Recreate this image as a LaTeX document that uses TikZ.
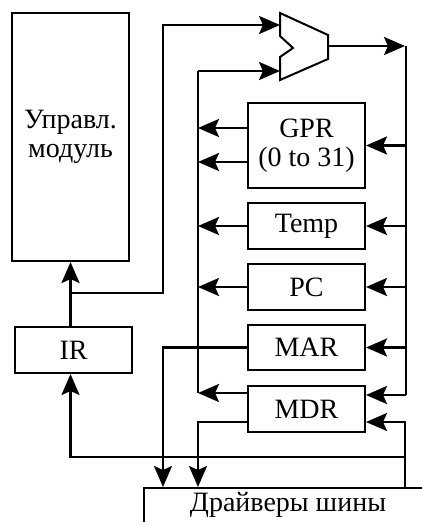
\documentclass[tikz,border=0pt]{standalone}
\usepackage{fontspec}
\setmainfont{Liberation Serif}
\usetikzlibrary{arrows.meta}

\begin{document}
\begin{tikzpicture}[x=1pt,y=-1pt,
  txt/.style={font=\fontsize{28}{29}\selectfont, align=center},
  reg/.style={txt, draw, line width=2pt, minimum width=117pt, inner sep=0pt},
  bus/.style={line width=2pt},
  wire/.style={line width=2.8pt, -{Stealth[length=21pt,width=18pt,inset=4pt]}},
  thinwire/.style={wire, line width=2.2pt}]

\useasboundingbox (0,0) rectangle (422,522);
\clip (0,0) rectangle (422,522);

% Блоки
\node[reg, minimum height=248pt] (ctrl) at (70.5,137) {Управл.\\модуль};
\node[reg, minimum height=46pt] (ir) at (73.5,350) {IR};
\node[reg, minimum height=85pt] (gpr) at (306.5,145.5) {GPR\\(0 to 31)};
\node[reg, minimum height=46pt] (temp) at (306.5,226) {Temp};
\node[reg, minimum height=46pt] (pc) at (306.5,287) {PC};
\node[reg, minimum height=45pt] (mar) at (306.5,347.5) {MAR};
\node[reg, minimum height=46pt] (mdr) at (306.5,409) {MDR};

% Драйверы шины
\node[reg, anchor=north west, minimum width=320pt, minimum height=60pt] (drv) at (143,487) {};
\node[txt] (drvtext) at (288,505) {Драйверы шины};

% АЛУ
\draw[line width=2pt] (280,13) -- (328,35) -- (328,59) -- (280,80) -- (280,57)
  -- (293,48) -- (280,36) -- cycle;
\coordinate (in1) at (280,25);
\coordinate (in2) at (280,71);
\coordinate (mout) at (328,46);

% Шины
\coordinate (ka) at (163,25);
\coordinate (Ltop) at (198,71);
\coordinate (L) at (198,393);
\coordinate (R) at (406,46);
\coordinate (Rbot) at (406,395);
\coordinate (dA) at (163,487);
\coordinate (dB) at (198,487);
\coordinate (dC) at (405,487);
\coordinate (dD) at (405,457);
\coordinate (j1) at (ctrl.south |- 0,293);

\draw[bus] (Ltop) -- (L);
\draw[bus] (R) -- (Rbot);
\draw[wire, shorten >=1pt] (mout) -- (R);
\draw[wire] (Ltop) -- (in2);
\draw[wire, line width=2.4pt] (j1) -| (ka) -- (in1);

% IR -> управление
\draw[wire] (ir.north -| ctrl.south) -- (ctrl.south);

% Регистры -> левая шина
\draw[wire] ([yshift=17.5pt]gpr.west) -- ([yshift=17.5pt]gpr.west -| L);
\draw[wire] ([yshift=-16.5pt]gpr.west) -- ([yshift=-16.5pt]gpr.west -| L);
\foreach \r in {temp,pc}
  \draw[wire] (\r.west) -- (\r.west -| L);
\draw[wire] (mdr.west |- L) -- (L);

% Правая шина -> регистры
\foreach \r in {gpr,temp,pc,mar}
  \draw[wire] (\r.east -| R) -- (\r.east);
\draw[wire] (Rbot) -- (mdr.east |- Rbot);

% Связь с драйверами
\draw[thinwire] (mar.west) -| (dA);
\draw[thinwire] ([yshift=-13pt]mdr.west) -| (dB);
\draw[thinwire] (dC) |- ([yshift=-13pt]mdr.east);
\draw[thinwire] (dD) -| (ir.south -| ctrl.south);

\end{tikzpicture}
\end{document}
